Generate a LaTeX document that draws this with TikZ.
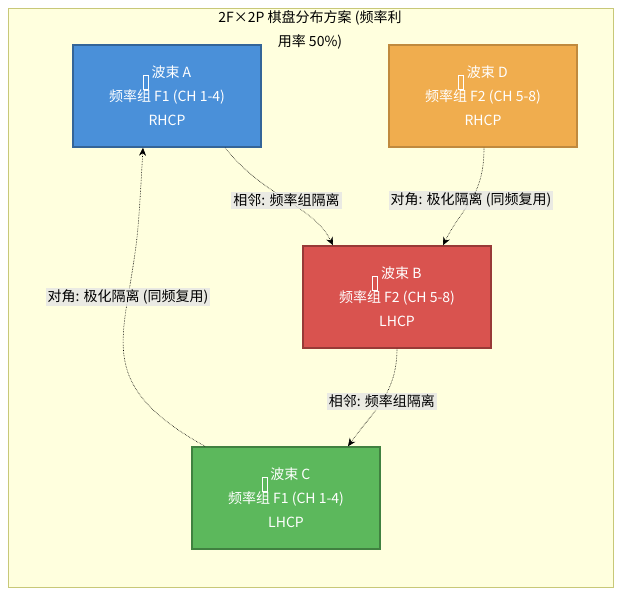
\documentclass[tikz,border=0pt]{standalone}
\usepackage{fontspec}
\setmainfont{Noto Sans CJK SC}
\usetikzlibrary{arrows.meta}
\definecolor{bgyel}{HTML}{FFFFDE}
\definecolor{frameyel}{HTML}{C8C878}
\definecolor{beamA}{HTML}{4A90D9}
\definecolor{beamD}{HTML}{F0AD4E}
\definecolor{beamB}{HTML}{D9534F}
\definecolor{beamC}{HTML}{5CB85C}
\newcommand{\tofu}{\tikz[baseline=-1pt]\draw[white,line width=0.6pt] (0,-2) rectangle (5,12);}
\tikzset{
  beam/.style={draw, line width=1.5pt, text=white, minimum width=188pt, minimum height=102pt,
    align=center, font=\fontsize{14}{24}\selectfont},
  link/.style={densely dotted, line width=0.6pt, -{Stealth[length=8pt,width=7pt]}},
  tag/.style={fill=black!10, fill opacity=0.8, text opacity=1, inner sep=2pt,
    font=\fontsize{14}{17}\selectfont}
}
\begin{document}
\begin{tikzpicture}[x=1pt,y=-1pt]
\useasboundingbox (0,0) rectangle (621,595);
% frame
\draw[frameyel, fill=bgyel] (8,8) rectangle (613,587);
\node[align=center, font=\fontsize{14}{24}\selectfont] (title) at (310,30) {2F×2P 棋盘分布方案 (频率利\\用率 50\%)};
% beams
\node[beam, fill=beamA, draw=beamA!70!black] (bA) at (167,96) {\tofu{} 波束 A\\频率组 F1 (CH 1-4)\\RHCP};
\node[beam, fill=beamD, draw=beamD!80!black] (bD) at (483,96) {\tofu{} 波束 D\\频率组 F2 (CH 5-8)\\RHCP};
\node[beam, fill=beamB, draw=beamB!70!black] (bB) at (397,297) {\tofu{} 波束 B\\频率组 F2 (CH 5-8)\\LHCP};
\node[beam, fill=beamC, draw=beamC!70!black] (bC) at (286,498) {\tofu{} 波束 C\\频率组 F1 (CH 1-4)\\LHCP};
% links
\draw[link] ([xshift=58pt]bA.south) .. controls +(40,50) and +(-20,-40) .. ([xshift=-64pt]bB.north)
  node[pos=0.5, tag] {相邻: 频率组隔离};
\draw[link] ([xshift=1pt]bD.south) .. controls +(0,50) and +(20,-40) .. ([xshift=46pt]bB.north)
  node[pos=0.5, tag] {对角: 极化隔离 (同频复用)};
\draw[link] (bB.south) .. controls +(0,45) and +(25,-35) .. ([xshift=62pt]bC.north)
  node[pos=0.5, tag] {相邻: 频率组隔离};
\draw[link] ([xshift=-81pt]bC.north) .. controls +(-90,-50) and +(-10,60) .. (128,297)
  node[tag] {对角: 极化隔离 (同频复用)} .. controls +(10,-60) .. ([xshift=-24pt]bA.south);
\end{tikzpicture}
\end{document}
